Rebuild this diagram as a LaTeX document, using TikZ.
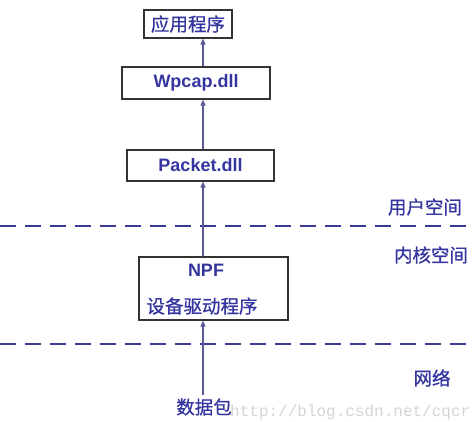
\documentclass[tikz,border=0pt]{standalone}
\usepackage{fontspec}
\setmainfont{Liberation Sans}
\newfontfamily\cjk[FakeBold=0.8]{Noto Sans CJK SC}
\newfontfamily\wmfont{Liberation Mono}
\usetikzlibrary{arrows.meta}
\definecolor{txtblue}{HTML}{3535A0}
\definecolor{dashblue}{HTML}{3A3A98}
\definecolor{arrowc}{HTML}{5A5A96}
\definecolor{boxc}{HTML}{333333}
\tikzset{
  layerbox/.style={draw=boxc, line width=1.1pt, inner sep=0pt},
  lbl/.style={text=txtblue, font=\fontsize{18}{20}\selectfont\bfseries},
  cjklbl/.style={text=txtblue, font=\fontsize{18.5}{20}\selectfont\cjk},
  upflow/.style={draw=arrowc, line width=1.2pt, -{Triangle[length=6pt,width=5pt]}},
  sep/.style={draw=dashblue, line width=2.2pt, dash pattern=on 16pt off 9pt},
}
\begin{document}
\begin{tikzpicture}[x=1pt,y=-1pt]
\useasboundingbox (0,0) rectangle (476,421);
% boxes
\node[layerbox, minimum width=88pt, minimum height=28pt, cjklbl] (app) at (188,24) {应用程序};
\node[layerbox, minimum width=148pt, minimum height=32pt, lbl] (wpcap) at (196,83) {Wpcap.dll};
\node[layerbox, minimum width=147pt, minimum height=31pt, lbl] (packet) at (200.5,165.5) {Packet.dll};
\node[layerbox, minimum width=149pt, minimum height=63pt] (npf) at (213.5,288.5) {};
\node[lbl] (npft) at (206,270) {NPF};
\node[cjklbl] (npfd) at (202,306) {设备驱动程序};
% dashed separators
\coordinate (d1a) at (0,226);
\coordinate (d1b) at (472,226);
\coordinate (d2a) at (0,344);
\coordinate (d2b) at (472,344);
\draw[sep] (d1a) -- (d1b);
\draw[sep] (d2a) -- (d2b);
% labels
\node[cjklbl] (user) at (425,207) {用户空间};
\node[cjklbl] (kern) at (431,255) {内核空间};
\node[cjklbl] (net) at (432,378) {网络};
% watermark
\node[text=black!17, font=\fontsize{16}{18}\selectfont\wmfont, anchor=base west, inner sep=0pt] (wm) at (230,416) {http://blog.csdn.net/cqcr};
\node[cjklbl] (pkt) at (204,407) {数据包};
% arrows
\draw[upflow] (wpcap.north -| 203,0) -- (app.south -| 203,0);
\draw[upflow] (packet.north -| 203,0) -- (wpcap.south -| 203,0);
\draw[upflow] (npf.north -| 203,0) -- (packet.south -| 203,0);
\draw[upflow] (pkt.north -| 203,0) -- (npf.south -| 203,0);
\end{tikzpicture}
\end{document}
